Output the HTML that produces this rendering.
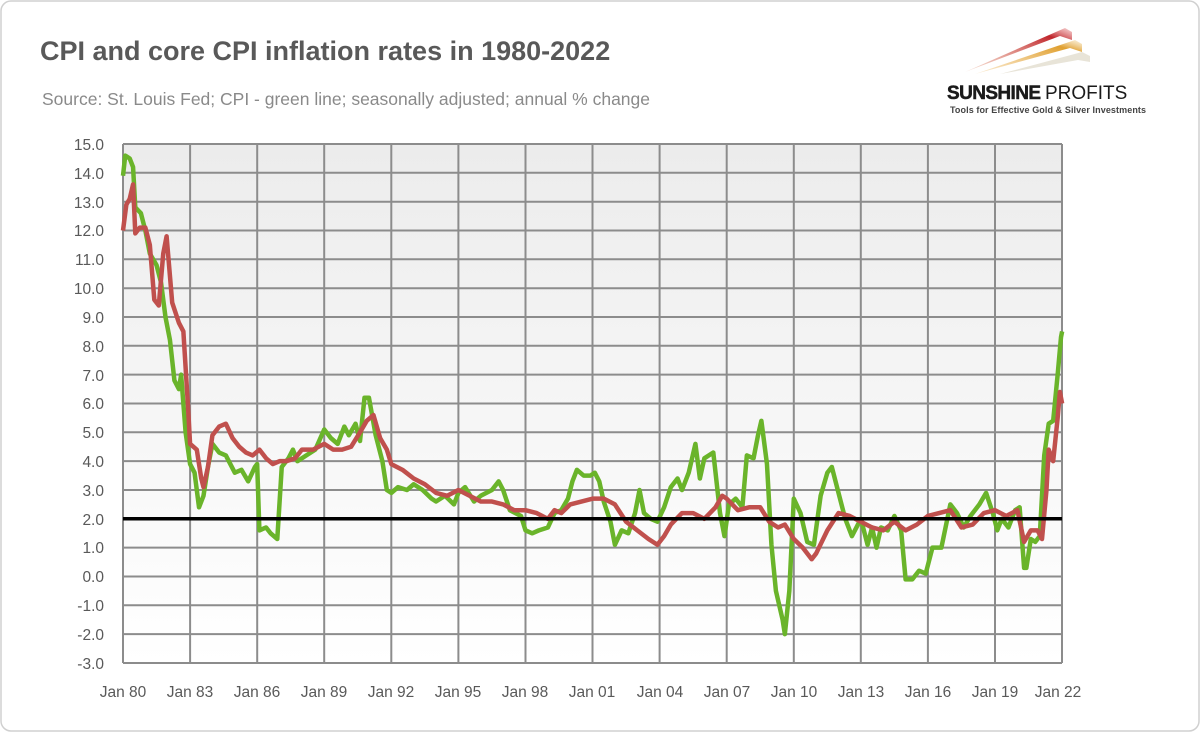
<!DOCTYPE html>
<html><head><meta charset="utf-8"><style>
body{margin:0;background:#fff;}
svg{display:block;font-family:"Liberation Sans",sans-serif;}
</style></head><body>
<svg width="1200" height="732" viewBox="0 0 1200 732">
<defs>
<linearGradient id="bg" x1="0" y1="0" x2="0" y2="1">
<stop offset="0" stop-color="#ececec"/><stop offset="1" stop-color="#ffffff"/>
</linearGradient>
<linearGradient id="r1" x1="0" y1="1" x2="1" y2="0"><stop offset="0" stop-color="#e6a080" stop-opacity="0.3"/><stop offset="0.8" stop-color="#c0262d"/><stop offset="1" stop-color="#e07070" stop-opacity="0.3"/></linearGradient>
<linearGradient id="r2" x1="0" y1="1" x2="1" y2="0"><stop offset="0" stop-color="#f0c070" stop-opacity="0.3"/><stop offset="0.8" stop-color="#e0a030"/><stop offset="1" stop-color="#f0d090" stop-opacity="0.3"/></linearGradient>
</defs>
<rect x="1" y="1" width="1198" height="730" rx="10" fill="#fff" stroke="#d0d0d0" stroke-width="1.5"/>
<text x="40" y="60" font-size="27" font-weight="bold" fill="#595959">CPI and core CPI inflation rates in 1980-2022</text>
<text x="42" y="105" font-size="17.5" fill="#8a8a8a">Source: St. Louis Fed; CPI - green line; seasonally adjusted; annual % change</text>
<polygon points="965,72 1065,28 1072,32 1072,40 1060,36" fill="url(#r1)"/>
<polygon points="975,74 1075,40 1082,44 1082,52 1070,48" fill="url(#r2)"/>
<polygon points="1000,74 1082,52 1090,56 1090,62 1078,60" fill="#e8e4d8"/>
<text x="947" y="99" font-size="19" font-weight="bold" fill="#1a1a1a" stroke="#1a1a1a" stroke-width="0.5" textLength="94">SUNSHINE</text>
<text x="1045" y="99" font-size="19" fill="#1a1a1a">PROFITS</text>
<text x="950" y="113" font-size="9" font-weight="bold" fill="#444" textLength="196">Tools for Effective Gold &amp; Silver Investments</text>
<rect x="123" y="144" width="939" height="519" fill="url(#bg)"/>
<g stroke="#8c8c8c" stroke-width="2">
<line x1="123" x2="1062" y1="144" y2="144"/><line x1="123" x2="1062" y1="172.8" y2="172.8"/><line x1="123" x2="1062" y1="201.7" y2="201.7"/><line x1="123" x2="1062" y1="230.5" y2="230.5"/><line x1="123" x2="1062" y1="259.3" y2="259.3"/><line x1="123" x2="1062" y1="288.2" y2="288.2"/><line x1="123" x2="1062" y1="317" y2="317"/><line x1="123" x2="1062" y1="345.8" y2="345.8"/><line x1="123" x2="1062" y1="374.6" y2="374.6"/><line x1="123" x2="1062" y1="403.5" y2="403.5"/><line x1="123" x2="1062" y1="432.3" y2="432.3"/><line x1="123" x2="1062" y1="461.1" y2="461.1"/><line x1="123" x2="1062" y1="490" y2="490"/><line x1="123" x2="1062" y1="547.6" y2="547.6"/><line x1="123" x2="1062" y1="576.5" y2="576.5"/><line x1="123" x2="1062" y1="605.3" y2="605.3"/><line x1="123" x2="1062" y1="634.1" y2="634.1"/><line x1="123" x2="1062" y1="663" y2="663"/>
<line x1="123" x2="123" y1="144" y2="663"/><line x1="190.1" x2="190.1" y1="144" y2="663"/><line x1="257.2" x2="257.2" y1="144" y2="663"/><line x1="324.2" x2="324.2" y1="144" y2="663"/><line x1="391.3" x2="391.3" y1="144" y2="663"/><line x1="458.4" x2="458.4" y1="144" y2="663"/><line x1="525.5" x2="525.5" y1="144" y2="663"/><line x1="592.5" x2="592.5" y1="144" y2="663"/><line x1="659.6" x2="659.6" y1="144" y2="663"/><line x1="726.7" x2="726.7" y1="144" y2="663"/><line x1="793.8" x2="793.8" y1="144" y2="663"/><line x1="860.8" x2="860.8" y1="144" y2="663"/><line x1="927.9" x2="927.9" y1="144" y2="663"/><line x1="995" x2="995" y1="144" y2="663"/><line x1="1062" x2="1062" y1="144" y2="663"/>
</g>
<g font-size="15.5" fill="#595959" text-anchor="end">
<text x="104" y="150">15.0</text><text x="104" y="179">14.0</text><text x="104" y="208">13.0</text><text x="104" y="236">12.0</text><text x="104" y="265">11.0</text><text x="104" y="294">10.0</text><text x="104" y="323">9.0</text><text x="104" y="352">8.0</text><text x="104" y="381">7.0</text><text x="104" y="409">6.0</text><text x="104" y="438">5.0</text><text x="104" y="467">4.0</text><text x="104" y="496">3.0</text><text x="104" y="525">2.0</text><text x="104" y="553">1.0</text><text x="104" y="582">0.0</text><text x="104" y="611">-1.0</text><text x="104" y="640">-2.0</text><text x="104" y="669">-3.0</text>
</g>
<g font-size="15.5" fill="#595959" text-anchor="middle">
<text x="123" y="697">Jan 80</text><text x="190" y="697">Jan 83</text><text x="257" y="697">Jan 86</text><text x="324" y="697">Jan 89</text><text x="391" y="697">Jan 92</text><text x="458" y="697">Jan 95</text><text x="525" y="697">Jan 98</text><text x="592" y="697">Jan 01</text><text x="660" y="697">Jan 04</text><text x="727" y="697">Jan 07</text><text x="794" y="697">Jan 10</text><text x="861" y="697">Jan 13</text><text x="928" y="697">Jan 16</text><text x="995" y="697">Jan 19</text><text x="1058" y="697">Jan 22</text>
</g>
<g transform="translate(123,576.5) scale(22.36,-28.83)" fill="none" stroke-linejoin="round">
<polyline vector-effect="non-scaling-stroke" stroke="#6ab42a" stroke-width="4.5" points="0,13.9 0.1,14.6 0.3,14.5 0.45,14.2 0.55,12.8 0.8,12.6 1.0,12.0 1.2,11.2 1.5,10.8 1.7,10.2 1.9,9.0 2.1,8.2 2.3,6.8 2.5,6.5 2.6,7.0 2.8,5.0 3.0,3.9 3.2,3.6 3.4,2.4 3.6,2.8 3.8,3.8 4.0,4.6 4.3,4.3 4.6,4.2 5.0,3.6 5.3,3.7 5.6,3.3 5.9,3.8 6.0,3.9 6.1,1.6 6.4,1.7 6.6,1.5 6.9,1.3 7.1,3.8 7.4,4.1 7.6,4.4 7.8,4.0 8.2,4.2 8.6,4.4 9.0,5.1 9.3,4.8 9.6,4.6 9.9,5.2 10.1,4.9 10.4,5.3 10.6,4.7 10.8,6.2 11.0,6.2 11.3,4.9 11.6,4.0 11.8,3.0 12.0,2.9 12.3,3.1 12.7,3.0 13.0,3.2 13.4,3.0 13.8,2.7 14.0,2.6 14.4,2.8 14.8,2.5 15.0,2.9 15.3,3.1 15.7,2.6 16.0,2.8 16.5,3.0 16.8,3.3 17.0,3.0 17.3,2.3 17.8,2.1 18.0,1.6 18.3,1.5 18.6,1.6 19.0,1.7 19.3,2.2 19.6,2.3 19.9,2.7 20.1,3.3 20.3,3.7 20.6,3.5 20.9,3.5 21.1,3.6 21.3,3.3 21.5,2.6 21.8,1.9 22.0,1.1 22.3,1.6 22.6,1.5 22.9,2.2 23.1,3.0 23.3,2.2 23.6,2.0 23.9,1.9 24.2,2.4 24.5,3.1 24.8,3.4 25.0,3.0 25.3,3.6 25.6,4.6 25.8,3.4 26.0,4.1 26.4,4.3 26.7,2.2 26.9,1.4 27.1,2.5 27.4,2.7 27.7,2.4 27.9,4.2 28.2,4.1 28.4,4.9 28.55,5.4 28.8,3.9 29.0,1.1 29.2,-0.5 29.5,-1.5 29.6,-2.0 29.8,-0.5 30.0,2.7 30.3,2.2 30.6,1.2 30.9,1.1 31.2,2.8 31.5,3.6 31.7,3.8 32.0,2.9 32.3,2.0 32.6,1.4 33.0,2.0 33.3,1.1 33.5,1.7 33.7,1.0 33.9,1.7 34.2,1.6 34.5,2.1 34.8,1.6 35.0,-0.1 35.3,-0.1 35.6,0.2 35.9,0.1 36.2,1.0 36.6,1.0 37.0,2.5 37.3,2.2 37.6,1.7 37.9,2.1 38.3,2.5 38.6,2.9 38.9,2.2 39.1,1.6 39.3,2.0 39.6,1.7 39.9,2.3 40.1,2.4 40.3,0.3 40.4,0.3 40.6,1.3 40.8,1.2 41.0,1.4 41.2,4.2 41.4,5.3 41.6,5.4 41.8,7.0 41.95,8.3 42.0,8.5"/>
<polyline vector-effect="non-scaling-stroke" stroke="#c0504d" stroke-width="4.5" points="0,12.0 0.15,12.9 0.3,13.1 0.45,13.6 0.55,11.9 0.75,12.1 1.0,12.1 1.2,11.5 1.4,9.6 1.6,9.4 1.8,11.2 1.95,11.8 2.2,9.5 2.5,8.8 2.7,8.5 2.9,6.0 3.0,4.6 3.3,4.4 3.5,3.4 3.6,3.1 3.8,3.8 4.0,4.9 4.3,5.2 4.6,5.3 4.9,4.8 5.2,4.5 5.5,4.3 5.8,4.2 6.1,4.4 6.4,4.1 6.7,3.9 7.0,4.0 7.3,4.0 7.7,4.1 8.0,4.4 8.5,4.4 9.0,4.6 9.4,4.4 9.8,4.4 10.2,4.5 10.6,5.0 10.9,5.4 11.2,5.6 11.5,4.8 11.8,4.4 12.0,3.9 12.5,3.7 13.0,3.4 13.5,3.2 14.0,2.9 14.5,2.8 15.0,3.0 15.5,2.8 16.0,2.6 16.5,2.6 17.0,2.5 17.5,2.3 18.0,2.3 18.5,2.2 19.0,2.0 19.3,2.3 19.6,2.2 20.0,2.5 20.5,2.6 21.0,2.7 21.5,2.7 22.0,2.5 22.5,1.9 23.0,1.6 23.5,1.3 23.9,1.1 24.2,1.4 24.5,1.8 25.0,2.2 25.5,2.2 26.0,2.0 26.5,2.4 26.8,2.8 27.0,2.7 27.5,2.3 28.0,2.4 28.5,2.4 28.9,1.9 29.3,1.7 29.6,1.8 30.0,1.3 30.4,1.0 30.8,0.6 31.0,0.8 31.5,1.6 32.0,2.2 32.5,2.1 33.0,1.9 33.5,1.7 34.0,1.6 34.5,1.9 35.0,1.6 35.5,1.8 36.0,2.1 36.5,2.2 37.0,2.3 37.5,1.7 38.0,1.8 38.5,2.2 39.0,2.3 39.5,2.1 40.0,2.3 40.3,1.2 40.6,1.6 40.9,1.6 41.1,1.3 41.3,3.0 41.4,4.4 41.6,4.0 41.8,5.5 41.9,6.4 42.0,6.0"/>
</g>
<line x1="123" x2="1062" y1="518.8" y2="518.8" stroke="#000" stroke-width="3.5"/>
</svg>
</body></html>
